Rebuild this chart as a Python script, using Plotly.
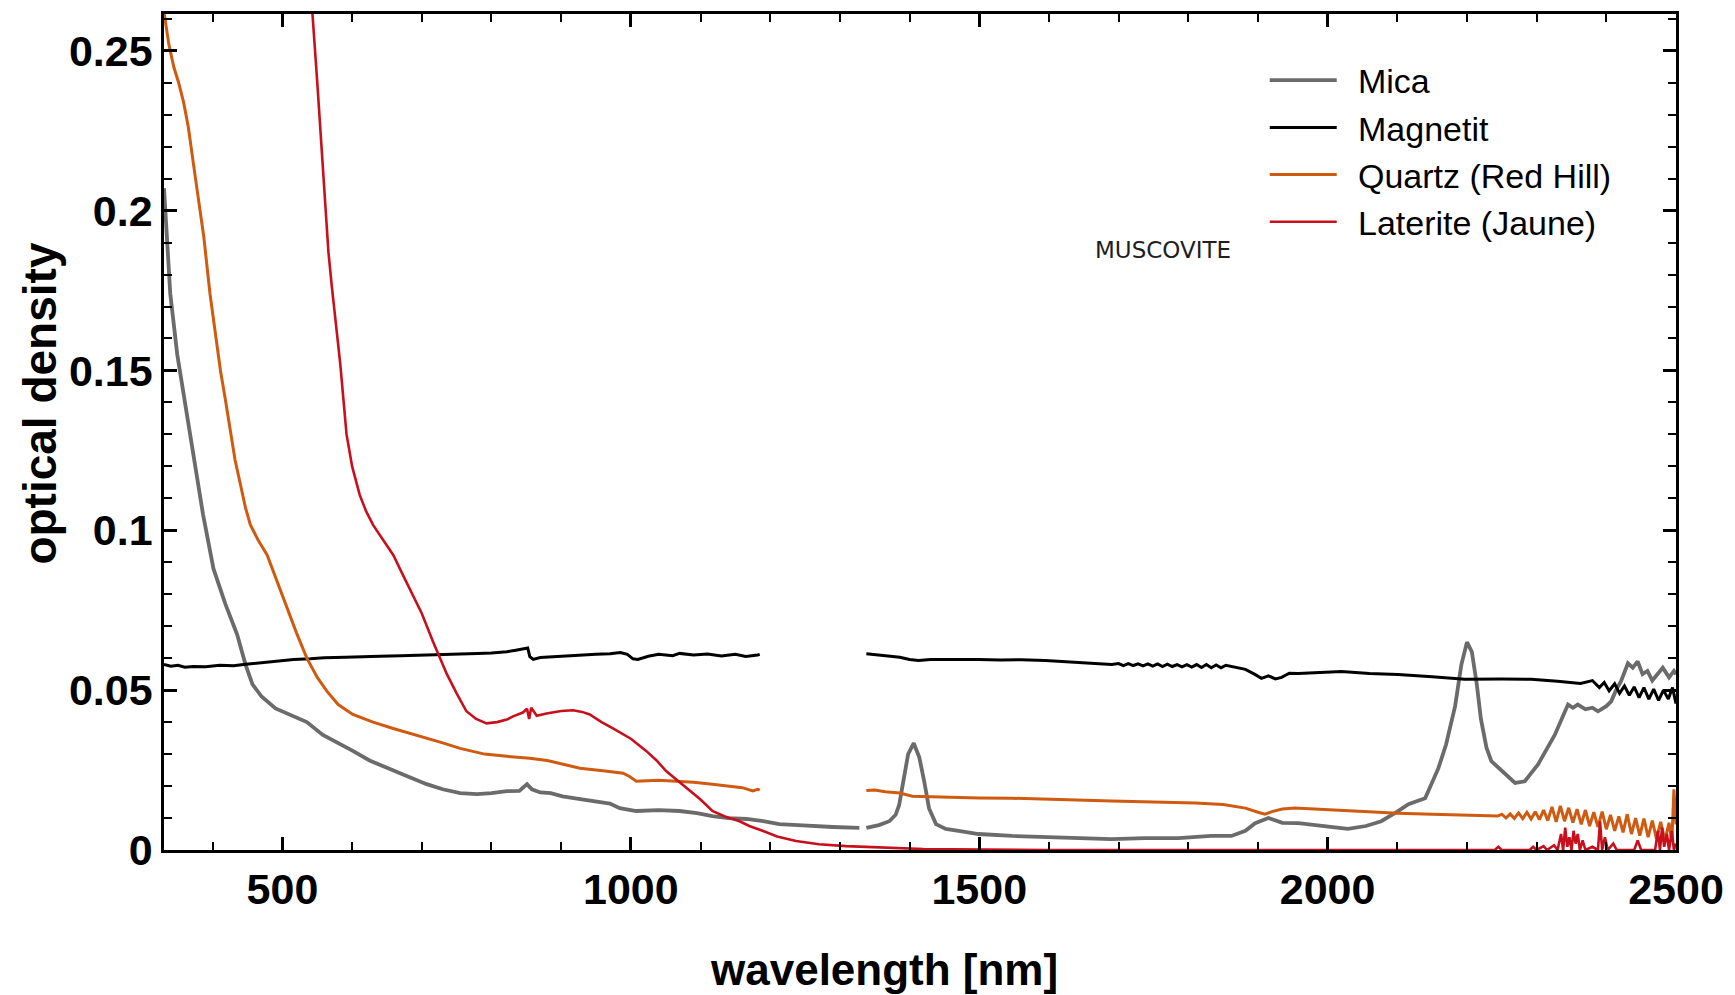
import plotly.graph_objects as go

# ---------------- data ----------------
mica_wl = [330, 334, 339, 349, 361, 372, 386, 401, 418, 435, 447, 457, 470, 490, 511, 535, 558, 580, 601, 625,
           650, 680, 707, 730, 755, 779, 800, 822, 840, 851, 858, 870, 885, 902, 925, 950, 970, 984, 1008, 1040,
           1070, 1095, 1117, 1140, 1166, 1190, 1213, 1240, 1260, 1290, 1328, 1333, 1338, 1356, 1371, 1380, 1385,
           1391, 1398, 1406, 1414, 1421, 1428, 1438, 1452, 1475, 1499, 1547, 1595, 1643, 1690, 1738, 1786, 1833,
           1862, 1882, 1896, 1915, 1935, 1958, 1990, 2029, 2055, 2077, 2100, 2116, 2140, 2159, 2170, 2183, 2192,
           2200, 2207, 2214, 2220, 2228, 2235, 2255, 2269, 2283, 2302, 2326, 2345, 2352, 2359, 2370, 2380, 2388,
           2400, 2407, 2414, 2421, 2431, 2438, 2445, 2452, 2459, 2466, 2474, 2481, 2490, 2497, 2500]
mica_od = [0.207, 0.192, 0.174, 0.155, 0.139, 0.1245, 0.105, 0.088, 0.077, 0.0674, 0.058, 0.0518, 0.048, 0.0443,
           0.0424, 0.040, 0.036, 0.0335, 0.031, 0.028, 0.0256, 0.023, 0.0206, 0.019, 0.0178, 0.0175, 0.0178, 0.0184,
           0.0185, 0.0206, 0.019, 0.018, 0.0178, 0.0168, 0.016, 0.0153, 0.0145, 0.0131, 0.0122, 0.0125, 0.0122,
           0.0115, 0.0106, 0.010, 0.0097, 0.009, 0.0081, 0.0078, 0.0075, 0.0072, 0.0069, None, 0.0069, 0.0078,
           0.009, 0.011, 0.014, 0.0215, 0.030, 0.0334, 0.029, 0.0215, 0.013, 0.0081, 0.0066, 0.0058, 0.005, 0.0044,
           0.004, 0.0037, 0.0034, 0.0037, 0.0037, 0.0044, 0.0044, 0.006, 0.0084, 0.010, 0.0085, 0.0084, 0.0075,
           0.0066, 0.0075, 0.009, 0.012, 0.0143, 0.0162, 0.0256, 0.033, 0.045, 0.058, 0.065, 0.062, 0.052, 0.041,
           0.032, 0.0278, 0.0237, 0.021, 0.0215, 0.0268, 0.036, 0.0455, 0.0445, 0.0455, 0.044, 0.0445, 0.0434,
           0.045, 0.0465, 0.050, 0.0527, 0.0584, 0.057, 0.059, 0.055, 0.056, 0.053, 0.055, 0.057, 0.054, 0.056, 0.055]

magn_wl = [330, 340, 350, 360, 372, 390, 410, 430, 444, 470, 490, 516, 540, 560, 590, 611, 640, 670, 707, 740,
           780, 800, 822, 835, 845, 852, 855, 860, 870, 890, 910, 927, 950, 970, 985, 995, 1003, 1010, 1025, 1040,
           1060, 1070, 1090, 1110, 1130, 1150, 1165, 1182, 1185, 1260, 1338, 1356, 1372, 1386, 1400, 1413, 1430,
           1460, 1499, 1530, 1560, 1595, 1620, 1650, 1670, 1690, 1700, 1707, 1714, 1721, 1728, 1735, 1742, 1749,
           1756, 1763, 1770, 1777, 1784, 1791, 1798, 1805, 1812, 1819, 1826, 1833, 1840, 1847, 1854, 1862, 1870,
           1882, 1895, 1905, 1915, 1925, 1934, 1945, 1958, 1990, 2020, 2060, 2101, 2150, 2197, 2250, 2292, 2330,
           2363, 2380, 2390, 2397, 2404, 2412, 2419, 2426, 2433, 2440, 2447, 2454, 2461, 2468, 2475, 2482, 2489,
           2495, 2500]
magn_od = [0.058, 0.0575, 0.0578, 0.0572, 0.0574, 0.0573, 0.0578, 0.0576, 0.058, 0.0585, 0.059, 0.0596, 0.0598,
           0.0601, 0.0603, 0.0605, 0.0606, 0.0608, 0.0611, 0.0612, 0.0615, 0.0616, 0.062, 0.0625, 0.063, 0.0632,
           0.0605, 0.0596, 0.0602, 0.0605, 0.0608, 0.061, 0.0612, 0.0614, 0.0618, 0.0612, 0.0598, 0.0596, 0.0606,
           0.0612, 0.0608, 0.0615, 0.061, 0.0613, 0.0607, 0.0612, 0.0605, 0.061, 0.0612, None, 0.0614, 0.061,
           0.0606, 0.0603, 0.0596, 0.0593, 0.0596, 0.0597, 0.0596, 0.0594, 0.0595, 0.0593, 0.059, 0.0587, 0.0583,
           0.058, 0.0583, 0.0577, 0.0583, 0.0577, 0.0582, 0.0576, 0.0582, 0.0575, 0.0582, 0.0574, 0.0581, 0.0574,
           0.0580, 0.0573, 0.0580, 0.0572, 0.0580, 0.0571, 0.0580, 0.0570, 0.0579, 0.0570, 0.0578, 0.0574, 0.0570,
           0.0565, 0.055, 0.0537, 0.0545, 0.0535, 0.054, 0.0553, 0.0552, 0.0556, 0.0558, 0.0552, 0.0549, 0.0542,
           0.0534, 0.0535, 0.0534, 0.0528, 0.0521, 0.0530, 0.0508, 0.0524, 0.0498, 0.0520, 0.0490, 0.0513, 0.0484,
           0.0510, 0.0477, 0.0508, 0.0472, 0.0503, 0.0468, 0.0500, 0.0472, 0.0508, 0.0458, 0.0515, 0.0485]

quartz_wl = [330, 337, 344, 351, 358, 365, 372, 380, 387, 396, 404, 411, 418, 425, 432, 440, 447, 454, 465, 478,
             492, 507, 520, 535, 550, 564, 580, 601, 630, 659, 680, 707, 730, 755, 790, 822, 855, 880, 900, 927,
             960, 989, 998, 1008, 1040, 1070, 1090, 1117, 1140, 1160, 1175, 1182, 1185, 1260, 1338, 1350, 1365,
             1386, 1404, 1450, 1500, 1547, 1600, 1650, 1690, 1750, 1810, 1850, 1882, 1900, 1910, 1920, 1935, 1953,
             1990, 2030, 2060, 2101, 2150, 2200, 2244, 2250, 2256, 2262, 2268, 2274, 2280, 2286, 2292, 2298, 2304,
             2310, 2316, 2322, 2328, 2334, 2340, 2346, 2352, 2358, 2364, 2370, 2376, 2382, 2388, 2394, 2400, 2406,
             2412, 2418, 2424, 2430, 2436, 2442, 2448, 2454, 2460, 2466, 2472, 2478, 2484, 2490, 2494, 2497, 2500]
quartz_od = [0.262, 0.252, 0.245, 0.240, 0.234, 0.226, 0.215, 0.203, 0.192, 0.174, 0.161, 0.150, 0.141, 0.131,
             0.122, 0.114, 0.107, 0.1017, 0.097, 0.0923, 0.084, 0.0755, 0.068, 0.060, 0.054, 0.0496, 0.0455, 0.0424,
             0.040, 0.038, 0.0367, 0.035, 0.0335, 0.0318, 0.030, 0.0293, 0.0287, 0.028, 0.027, 0.0256, 0.0248,
             0.024, 0.023, 0.0215, 0.0218, 0.0215, 0.0212, 0.0206, 0.020, 0.0195, 0.0185, 0.019, 0.0187, None,
             0.0186, 0.0188, 0.0182, 0.0178, 0.0168, 0.0165, 0.0163, 0.0162, 0.0158, 0.0155, 0.0153, 0.015, 0.0147,
             0.0142, 0.0131, 0.0118, 0.0112, 0.012, 0.0128, 0.0131, 0.0127, 0.0122, 0.0118, 0.0115, 0.0112, 0.011,
             0.0106, 0.0112, 0.0100, 0.0113, 0.0099, 0.0116, 0.0098, 0.0118, 0.0097, 0.0120, 0.0095, 0.0125, 0.0092,
             0.0135, 0.0088, 0.0138, 0.0090, 0.0132, 0.0086, 0.0128, 0.0080, 0.0125, 0.0075, 0.0118, 0.0072, 0.0120,
             0.0065, 0.0110, 0.0060, 0.0105, 0.0055, 0.0112, 0.0050, 0.0100, 0.0045, 0.0098, 0.0040, 0.0092, 0.0035,
             0.0088, 0.0030, 0.0085, 0.0025, 0.0190, 0.0080]

lat_wl = [538, 543, 550, 557, 562, 566, 571, 576, 583, 592, 600, 611, 620, 630, 645, 659, 673, 687, 700, 716, 726,
          736, 750, 764, 778, 793, 808, 822, 831, 845, 851, 854, 857, 865, 879, 900, 917, 930, 941, 958, 975, 1000,
          1022, 1037, 1051, 1065, 1080, 1100, 1117, 1135, 1156, 1170, 1189, 1210, 1237, 1270, 1309, 1350, 1385,
          1420, 1460, 1500, 1600, 1800, 2000, 2240, 2245, 2250, 2290, 2295, 2300, 2310, 2315, 2325, 2330, 2335,
          2338, 2341, 2344, 2347, 2350, 2353, 2356, 2359, 2362, 2366, 2370, 2380, 2388, 2391, 2394, 2398, 2402,
          2410, 2415, 2440, 2445, 2450, 2470, 2474, 2477, 2480, 2483, 2487, 2490, 2494, 2497, 2500]
lat_od = [0.275, 0.2618, 0.240, 0.218, 0.200, 0.187, 0.176, 0.166, 0.152, 0.130, 0.120, 0.111, 0.106, 0.1017,
          0.097, 0.0923, 0.086, 0.080, 0.074, 0.0652, 0.060, 0.055, 0.049, 0.0434, 0.041, 0.0396, 0.040, 0.0408,
          0.0418, 0.043, 0.0442, 0.041, 0.0445, 0.042, 0.0427, 0.0435, 0.0437, 0.0432, 0.0424, 0.040, 0.038,
          0.0348, 0.031, 0.028, 0.0246, 0.022, 0.0193, 0.0158, 0.0122, 0.0105, 0.009, 0.0075, 0.006, 0.0042,
          0.0028, 0.0018, 0.0012, 0.0008, 0.0006, 0.0003, 0.0002, 0.0001, 0.0, 0.0, 0.0, 0.0, 0.001, 0.0, 0.0,
          0.001, 0.0, 0.0012, 0.0, 0.0015, 0.0, 0.005, 0.0, 0.007, 0.001, 0.004, 0.0, 0.006, 0.002, 0.005, 0.0,
          0.003, 0.0, 0.001, 0.0, 0.009, 0.0, 0.004, 0.0, 0.002, 0.0, 0.0, 0.003, 0.0, 0.0, 0.006, 0.0, 0.007,
          0.001, 0.005, 0.0, 0.006, 0.0, 0.002]

series_names = ["Mica", "Magnetit", "Quartz (Red Hill)", "Laterite (Jaune)"]
series_x = [mica_wl, magn_wl, quartz_wl, lat_wl]
series_y = [mica_od, magn_od, quartz_od, lat_od]
series_colors = ["#6b6b6b", "#000000", "#cf5a10", "#c8101c"]
series_widths = [3.8, 3.0, 3.0, 2.6]

x_ticks = [500, 1000, 1500, 2000, 2500]
y_ticks = [0, 0.05, 0.1, 0.15, 0.2, 0.25]
y_tick_text = ["0", "0.05", "0.1", "0.15", "0.2", "0.25"]

# ---------------- figure ----------------
fig = go.Figure()
for name, xs, ys, col, lw in zip(series_names, series_x, series_y, series_colors, series_widths):
    fig.add_trace(go.Scatter(x=xs, y=ys, mode="lines", name="\u00a0\u2009" + name,
                             line=dict(color=col, width=lw), connectgaps=False))

FONT = "Liberation Sans, Arial, sans-serif"
axis_common = dict(
    showline=True, linewidth=2.5, linecolor="black", mirror="ticks",
    ticks="inside", ticklen=13, tickwidth=2.5, tickcolor="black",
    showgrid=False, zeroline=False,
    tickfont=dict(family=FONT, size=43, color="black", weight="bold"),
)

# page body has an 8px margin: the figure is sized/offset to put the plot area where the reference has it
fig.update_layout(
    width=1727, height=987,
    margin=dict(l=156, r=59, t=3, b=145),
    paper_bgcolor="white", plot_bgcolor="white",
    font=dict(family=FONT, color="black"),
    xaxis=dict(range=[330, 2500], tickvals=x_ticks, ticktext=[str(v) for v in x_ticks],
               minor=dict(ticks="inside", dtick=100, tick0=0, ticklen=8, tickwidth=2, tickcolor="black"),
               **axis_common),
    yaxis=dict(range=[0, 0.2615], tickvals=y_ticks, ticktext=y_tick_text,
               minor=dict(ticks="inside", dtick=0.01, tick0=0, ticklen=8, tickwidth=2, tickcolor="black"),
               **axis_common),
    legend=dict(x=0.728, y=0.955, xanchor="left", yanchor="top",
                font=dict(family=FONT, size=34, color="black"),
                bgcolor="rgba(0,0,0,0)", itemwidth=67, tracegroupgap=0),
    showlegend=True,
)

# axis titles (placed as in the reference, which is off-centre)
fig.add_annotation(x=0.476, y=-0.143, xref="paper", yref="paper", text="wavelength [nm]",
                   xanchor="center", yanchor="middle", showarrow=False,
                   font=dict(family=FONT, size=44, color="black", weight="bold"))
fig.add_annotation(x=-0.082, y=0.534, xref="paper", yref="paper", text="optical density",
                   textangle=-90, xanchor="center", yanchor="middle", showarrow=False,
                   font=dict(family=FONT, size=46, color="black", weight="bold"))

fig.add_annotation(x=0.661, y=0.7175, xref="paper", yref="paper", text="MUSCOVITE",
                   xanchor="center", yanchor="middle", showarrow=False,
                   font=dict(family="DejaVu Sans, Liberation Sans", size=23, color="#1e1e1e"))

fig.write_html("out.html")
